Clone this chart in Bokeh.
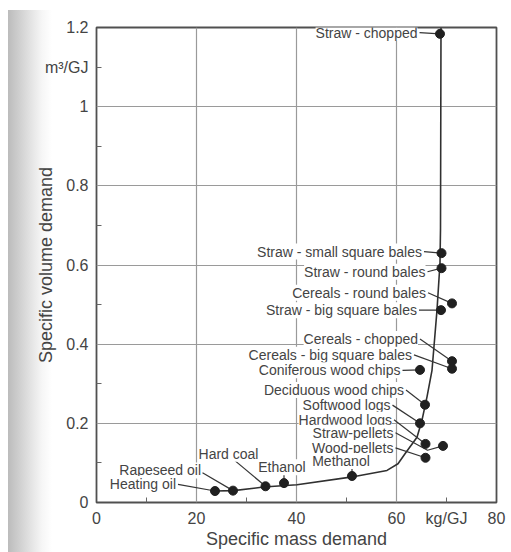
from bokeh.plotting import figure
from bokeh.models import ColumnDataSource, LabelSet, FixedTicker
from bokeh.core.properties import value
from bokeh.embed import file_html
from bokeh.resources import INLINE

# ---- data ----
fuels = ["Straw - chopped", "Straw - small square bales", "Straw - round bales",
         "Cereals - round bales", "Straw - big square bales", "Cereals - chopped",
         "Cereals - big square bales", "Coniferous wood chips", "Deciduous wood chips",
         "Softwood logs", "Hardwood logs", "Straw-pellets", "Wood-pellets",
         "Methanol", "Ethanol", "Hard coal", "Rapeseed oil", "Heating oil"]
mass = [68.7, 69.0, 69.0, 71.1, 68.9, 71.1, 71.1, 64.7, 65.7, 64.7, 65.8, 69.3, 65.8,
        51.1, 37.5, 33.8, 27.3, 23.7]          # kg/GJ
volume = [1.184, 0.630, 0.592, 0.503, 0.486, 0.357, 0.338, 0.335, 0.247, 0.200, 0.148,
          0.143, 0.113, 0.067, 0.049, 0.041, 0.030, 0.029]   # m3/GJ

curve_mass = [23.7, 27.4, 33.4, 40.1, 50.8, 58.1, 60.3, 61.7, 64.1, 65.1, 66.1, 67.1,
              67.6, 68.1, 68.7, 68.8, 68.9]
curve_volume = [0.029, 0.030, 0.039, 0.045, 0.064, 0.081, 0.098, 0.123, 0.165, 0.208,
                0.267, 0.334, 0.41, 0.486, 0.605, 0.69, 1.2]

x_ticks = [0, 20, 40, 60, 70, 80]
x_labels = {70: "kg/GJ"}
x_minor = [10, 30, 50, 70]
y_ticks = [0, 0.2, 0.4, 0.6, 0.8, 1.0, 1.1, 1.2]
y_labels = {0: "0", 1: "1", 1.1: "m³/GJ"}
y_minor = [0.1, 0.3, 0.5, 0.7, 0.9, 1.1]
x_grid = [20, 40, 60]
y_grid = [0.2, 0.4, 0.6, 0.8, 1.0]

# ---- label layout ----
label_x = [64.2, 65.1, 65.8, 65.9, 64.1, 64.3, 63.1, 60.8, 61.5, 58.8, 59.1, 59.4, 59.4,
           48.9, 37.1, 26.4, 20.9, 15.9]
label_y = [1.187, 0.634, 0.583, 0.530, 0.486, 0.413, 0.373, 0.334, 0.284, 0.246, 0.209,
           0.176, 0.138, 0.105, 0.089, 0.123, 0.081, 0.047]
label_align = ["right"] * 13 + ["center", "center", "center", "right", "right"]
lead_x = [lx + 0.4 for lx in label_x[:13]] + [51.1, 37.5, 26.9, 21.2, 16.3]
lead_y = label_y[:13] + [0.089, 0.076, 0.114, 0.075, 0.046]

xs, ys = [], []
for i in range(len(fuels)):
    if fuels[i] == "Straw-pellets":
        xs.append([lead_x[i], 66.2, mass[i]])
        ys.append([lead_y[i], 0.132, volume[i]])
    else:
        xs.append([lead_x[i], mass[i]])
        ys.append([lead_y[i], volume[i]])

FONT = "Liberation Sans"
TXT = "#444444"

p = figure(width=511, height=552, x_range=(0, 80), y_range=(0, 1.2),
           output_backend="svg", toolbar_location=None,
           min_border_left=96, min_border_right=15, min_border_top=27, min_border_bottom=50)
p.outline_line_color = "#505050"
p.outline_line_width = 1.8
p.background_fill_color = "white"
p.border_fill_color = None
p.styles = {"background": "linear-gradient(to bottom, #ffffff 10px, rgba(255,255,255,0) 10px), "
                          "linear-gradient(to right, #ffffff 8px, #bcbcbc 8px, #cdcdcd 18px, "
                          "#e2e2e2 30px, #f6f6f6 42px, #ffffff 52px)"}

p.xaxis.ticker = FixedTicker(ticks=x_ticks, minor_ticks=x_minor)
p.yaxis.ticker = FixedTicker(ticks=y_ticks, minor_ticks=y_minor)
p.xaxis.major_label_overrides = x_labels
p.yaxis.major_label_overrides = y_labels
p.xgrid.ticker = FixedTicker(ticks=x_grid)
p.ygrid.ticker = FixedTicker(ticks=y_grid)

for ax in (p.xaxis, p.yaxis):
    ax.axis_line_color = None
    ax.major_tick_line_color = None
    ax.major_tick_in = 0
    ax.major_tick_out = 0
    ax.minor_tick_in = 5
    ax.minor_tick_out = 0
    ax.minor_tick_line_color = "#666666"
    ax.minor_tick_line_width = 1
    ax.major_label_text_font = FONT
    ax.major_label_text_font_size = "16px"
    ax.major_label_text_color = TXT
    ax.axis_label_text_font = FONT
    ax.axis_label_text_font_size = "18px"
    ax.axis_label_text_font_style = "normal"
    ax.axis_label_text_color = TXT

p.xaxis.axis_label = "Specific mass demand"
p.yaxis.axis_label = "Specific volume demand"
p.xaxis.major_label_standoff = 7
p.xaxis.axis_label_standoff = -1
p.yaxis.major_label_standoff = 8
p.yaxis.axis_label_standoff = -14

p.grid.grid_line_color = "#9a9a9a"
p.grid.grid_line_width = 1.2

p.line(curve_mass, curve_volume, line_color="#303030", line_width=1.6)
p.multi_line(xs, ys, line_color="#353535", line_width=1.2)
p.scatter(mass, volume, size=9, fill_color="#202020", line_color="#202020")

src = ColumnDataSource(dict(x=label_x, y=label_y, t=fuels, a=label_align))
p.add_layout(LabelSet(x="x", y="y", text="t", source=src, text_align="a",
                      text_baseline="middle", text_font=value(FONT),
                      text_font_size=value("14px"), text_color=TXT,
                      background_fill_color="white"))

open("out.html", "w").write(file_html(p, INLINE))
